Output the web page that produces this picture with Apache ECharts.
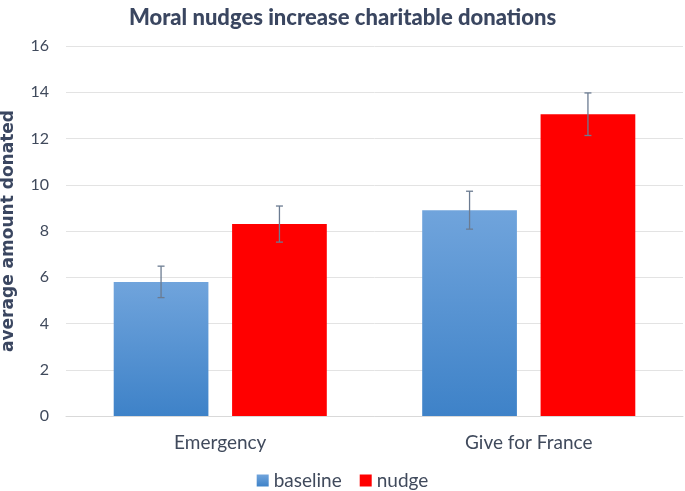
<!DOCTYPE html>
<html>
<head>
<meta charset="utf-8">
<script src="https://cdn.jsdelivr.net/npm/echarts@6/dist/echarts.min.js"></script>
<style>html,body{margin:0;padding:0;background:#fff}#c{width:685px;height:491px}</style>
</head>
<body>
<div id="c"></div>
<script>
const categories = ['Emergency', 'Give for France'];
const baseline = [5.8, 8.9];
const baselineErr = [0.68, 0.82];
const nudge = [8.3, 13.05];
const nudgeErr = [0.78, 0.92];
const yTicks = [0, 2, 4, 6, 8, 10, 12, 14, 16];

const BAR_W = 0.307, BAR_GAP = 0.25;
const FONT = 'Lato, "Open Sans", sans-serif';

function errSeries(name, vals, errs, side) {
  return {
    type: 'custom',
    name: name + ' err',
    z: 10,
    silent: true,
    data: vals.map((v, i) => [i, v, errs[i]]),
    renderItem: function (params, api) {
      const i = api.value(0), v = api.value(1), e = api.value(2);
      const band = api.size([1, 0])[0];
      const off = side * band * (BAR_W + BAR_W * BAR_GAP) / 2;
      const top = api.coord([i, v + e]);
      const bot = api.coord([i, v - e]);
      const x = top[0] + off;
      const cap = 3.5;
      const style = { stroke: '#6b7b91', lineWidth: 1.3 };
      return {
        type: 'group',
        children: [
          { type: 'line', shape: { x1: x, y1: top[1], x2: x, y2: bot[1] }, style: style },
          { type: 'line', shape: { x1: x - cap, y1: top[1], x2: x + cap, y2: top[1] }, style: style },
          { type: 'line', shape: { x1: x - cap, y1: bot[1], x2: x + cap, y2: bot[1] }, style: style }
        ]
      };
    }
  };
}

const chart = echarts.init(document.getElementById('c'));
chart.setOption({
  animation: false,
  title: {
    text: 'Moral nudges increase charitable donations',
    left: 'center',
    top: 2,
    textStyle: { fontFamily: FONT, fontSize: 22, fontWeight: 900, color: '#3a4660' }
  },
  legend: {
    data: ['baseline', 'nudge'],
    top: 466,
    left: 'center',
    itemWidth: 12,
    itemHeight: 12,
    itemGap: 18,
    icon: 'rect',
    textStyle: { fontFamily: FONT, fontSize: 19, color: '#404a5c' }
  },
  grid: { left: 66, right: 2, top: 46, bottom: 75, outerBoundsMode: 'none' },
  xAxis: {
    type: 'category',
    data: categories,
    axisTick: { show: false },
    axisLine: { lineStyle: { color: '#d9d9d9' } },
    axisLabel: { fontFamily: FONT, fontSize: 19, color: '#404a5c', margin: 17 }
  },
  yAxis: {
    type: 'value',
    min: yTicks[0],
    max: yTicks[yTicks.length - 1],
    interval: 2,
    name: 'average amount donated',
    nameLocation: 'middle',
    nameGap: 49,
    nameTextStyle: { fontFamily: '"DejaVu Sans", sans-serif', fontSize: 17, fontWeight: 'bold', color: '#3a4660' },
    axisLabel: { fontFamily: FONT, fontSize: 16, color: '#404a5c', margin: 17 },
    splitLine: { lineStyle: { color: '#e3e3e3' } },
    axisLine: { show: false },
    axisTick: { show: false }
  },
  series: [
    {
      name: 'baseline',
      type: 'bar',
      data: baseline,
      barWidth: (BAR_W * 100) + '%',
      barGap: (BAR_GAP * 100) + '%',
      itemStyle: {
        color: new echarts.graphic.LinearGradient(0, 0, 0, 1, [
          { offset: 0, color: '#70a4dc' },
          { offset: 1, color: '#3e82c8' }
        ])
      }
    },
    {
      name: 'nudge',
      type: 'bar',
      data: nudge,
      barWidth: (BAR_W * 100) + '%',
      barGap: (BAR_GAP * 100) + '%',
      itemStyle: { color: '#ff0000' }
    },
    errSeries('baseline', baseline, baselineErr, -1),
    errSeries('nudge', nudge, nudgeErr, 1)
  ]
});
</script>
</body>
</html>
